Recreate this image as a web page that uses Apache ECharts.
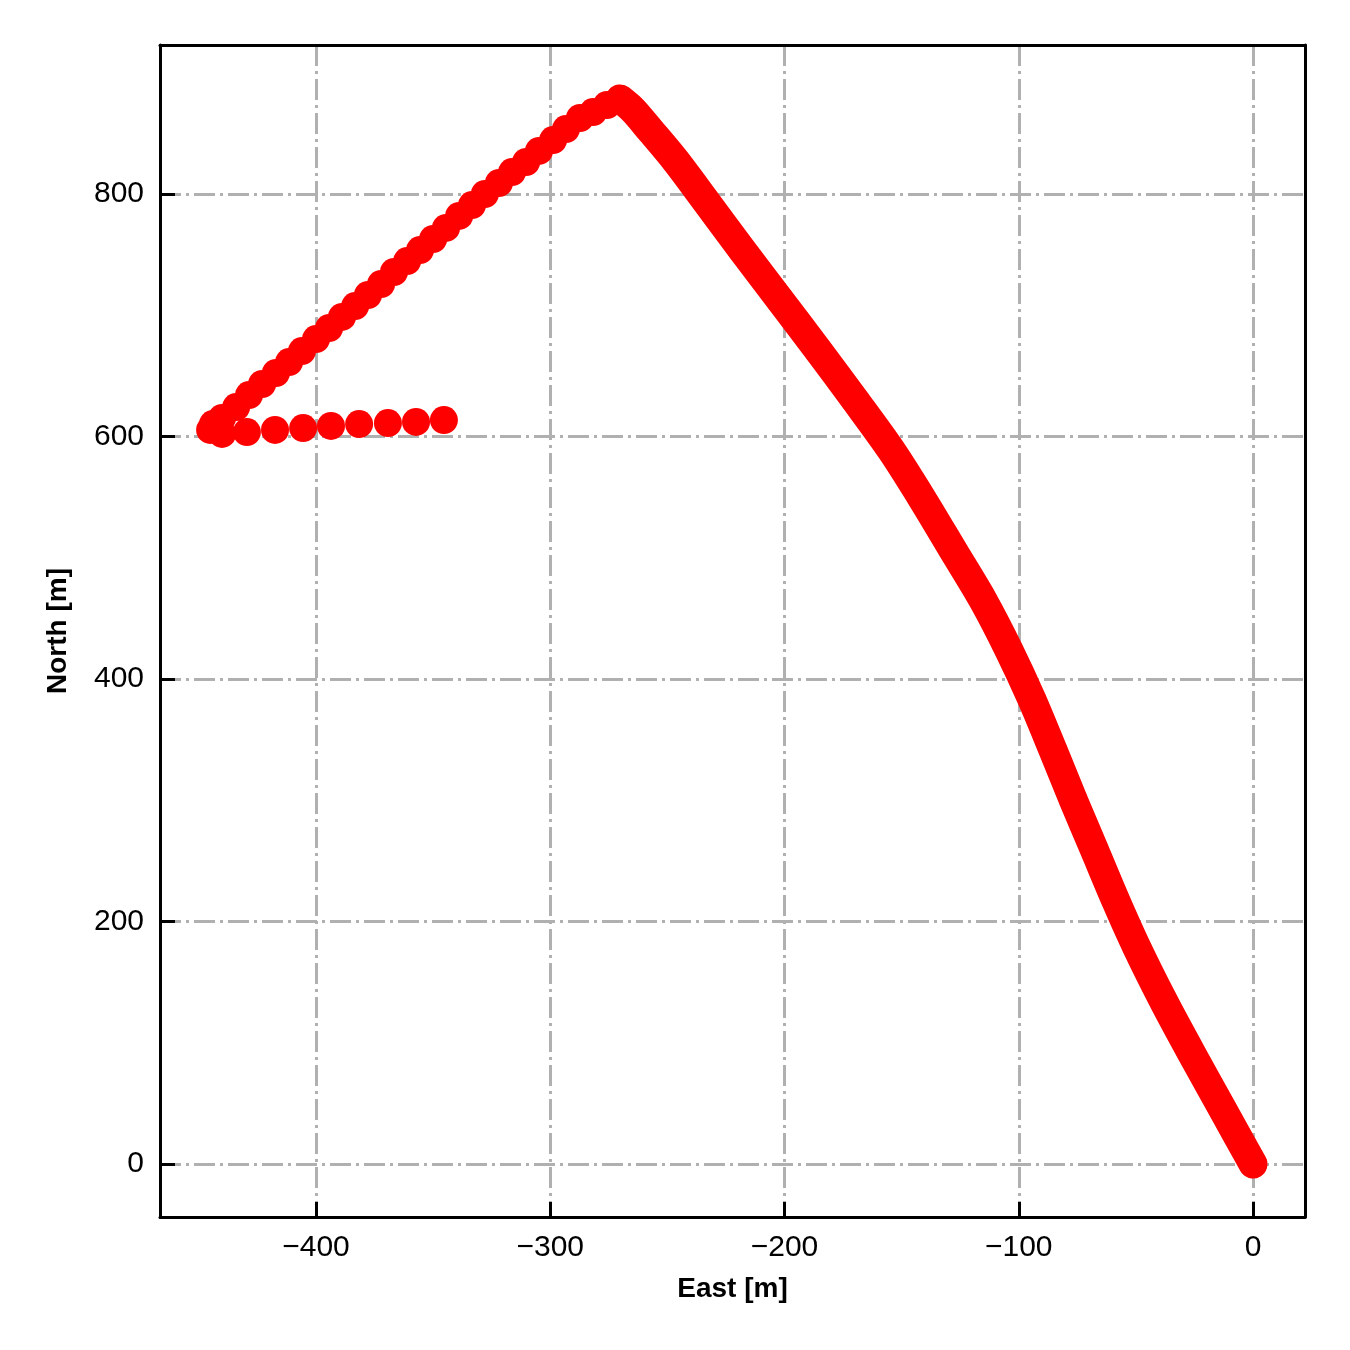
<!DOCTYPE html>
<html>
<head>
<meta charset="utf-8">
<script src="https://cdn.jsdelivr.net/npm/echarts@6/dist/echarts.min.js"></script>
<style>
html,body{margin:0;padding:0;background:#fff;}
#chart{width:1350px;height:1350px;}
</style>
</head>
<body>
<div id="chart"></div>
<script>
// Main leg: from origin up to the northern turning point (samples read along the track)
const mainEast  = [0, -12.8, -25.6, -38.0, -49.7, -58.7, -67.7, -76.7, -85.4, -94.3, -104.2, -115.3, -128.1, -140.9, -154.5, -169.9, -185.7, -201.9, -218.1, -233.9, -246.7, -257.4, -264.7, -270.2];
const mainNorth = [0, 44.5, 89.1, 133.6, 179.0, 217.7, 259.0, 300.2, 341.4, 382.7, 423.9, 465.2, 506.4, 547.6, 588.9, 630.1, 671.3, 712.6, 753.8, 795.0, 828.0, 852.8, 869.3, 878.4];

// Return leg toward south-west, then the short eastward tail
const legEast  = [-275.8, -281.7, -287.3, -293.3, -298.8, -304.8, -310.3, -316.3, -321.9, -327.9, -333.4, -338.9, -344.5, -350.0, -355.6, -361.1, -366.7, -372.2, -377.8, -383.3, -388.9, -394.4, -400.0, -406.0, -411.5, -417.1, -423.0, -428.6, -434.1, -440.1, -444.0, -445.2, -440.1];
const legNorth = [873.4, 867.6, 862.7, 853.6, 844.5, 835.5, 826.4, 818.1, 809.1, 800.0, 790.9, 781.9, 772.0, 762.9, 753.8, 744.7, 735.7, 725.8, 716.7, 707.6, 698.6, 689.5, 680.4, 670.5, 661.4, 652.4, 643.3, 634.2, 624.3, 615.3, 610.3, 605.4, 602.1];
const tailEast  = [-429.5, -417.5, -405.5, -393.6, -381.6, -369.3, -357.3, -345.4];
const tailNorth = [603.7, 605.4, 607.0, 608.7, 610.3, 611.1, 612.0, 613.6];

const xTitle = 'East [m]';
const yTitle = 'North [m]';

function pairs(xs, ys){ return xs.map((x,i)=>[x, ys[i]]); }

const RED = '#ff0000';
const X_MIN = -466.6, X_MAX = 22.2, Y_MIN = -43.7, Y_MAX = 922.9;
const gridStyle = {color:'#b0b0b0', width:3, type:[21,5,3,5]};
const labelFont = {fontFamily:'Liberation Sans, Arial, sans-serif', fontSize:30, color:'#000'};
const nameFont = {fontFamily:'Liberation Sans, Arial, sans-serif', fontSize:28, fontWeight:'bold', color:'#000'};
const fmt = v => (v < 0 ? '\u2212' + Math.abs(v) : String(v));
const frameLine = {show:true, onZero:false, lineStyle:{color:'#000', width:3}};

const chart = echarts.init(document.getElementById('chart'), null, {renderer:'canvas'});
chart.setOption({
  animation:false,
  backgroundColor:'#fff',
  grid:{left:160, right:45, top:45, bottom:133, show:false, containLabel:false},
  xAxis:[{
    type:'value', min:X_MIN, max:X_MAX, splitNumber:5, position:'bottom',
    name:xTitle, nameLocation:'middle', nameGap:58, nameTextStyle:nameFont,
    axisLine:frameLine,
    axisTick:{show:true, inside:true, length:15, lineStyle:{color:'#000', width:3}},
    axisLabel:Object.assign({margin:16, showMinLabel:false, showMaxLabel:false, formatter:fmt}, labelFont),
    splitLine:{show:true, lineStyle:gridStyle}
  },{
    type:'value', min:X_MIN, max:X_MAX, splitNumber:5, position:'top',
    axisLine:frameLine, axisTick:{show:false}, axisLabel:{show:false}, splitLine:{show:false}
  }],
  yAxis:[{
    type:'value', min:Y_MIN, max:Y_MAX, splitNumber:5, position:'left',
    name:yTitle, nameLocation:'middle', nameGap:88, nameTextStyle:nameFont,
    axisLine:frameLine,
    axisTick:{show:true, inside:true, length:15, lineStyle:{color:'#000', width:3}},
    axisLabel:Object.assign({margin:16, showMinLabel:false, showMaxLabel:false, formatter:fmt}, labelFont),
    splitLine:{show:true, lineStyle:gridStyle}
  },{
    type:'value', min:Y_MIN, max:Y_MAX, splitNumber:5, position:'right',
    axisLine:frameLine, axisTick:{show:false}, axisLabel:{show:false}, splitLine:{show:false}
  }],
  series:[
    {
      type:'line', data:pairs(mainEast, mainNorth), xAxisIndex:0, yAxisIndex:0,
      smooth:0.3, showSymbol:true, symbol:'circle', symbolSize:28,
      itemStyle:{color:RED},
      lineStyle:{color:RED, width:29, cap:'round', join:'round'},
      z:3
    },
    {
      type:'scatter', data:pairs(legEast, legNorth).concat(pairs(tailEast, tailNorth)), xAxisIndex:0, yAxisIndex:0,
      symbol:'circle', symbolSize:28,
      itemStyle:{color:RED, opacity:1},
      z:4
    }
  ]
});
</script>
</body>
</html>
